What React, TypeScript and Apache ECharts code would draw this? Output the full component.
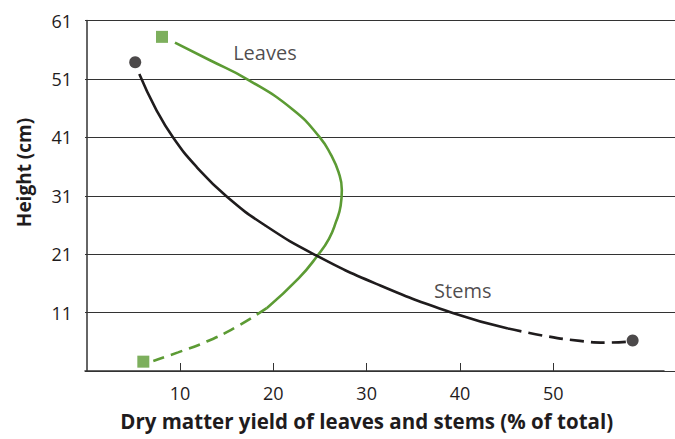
import React, { useEffect, useRef } from "react";
import * as echarts from "echarts";

// Leaves (% of total dry matter) vs height (cm)
const leavesSolid: [number, number][] = [
  [9.46, 57.2], [13.21, 54.19], [17.21, 50.94], [22.14, 45.69], [25.0, 40.95],
  [26.18, 37.98], [26.98, 35.08], [27.34, 32.0], [27.21, 29.26], [26.71, 26.52],
  [25.96, 23.61], [24.79, 20.87], [22.73, 16.89], [19.29, 11.75],
];
const leavesDashed: [number, number][] = [
  [19.29, 11.75], [16.08, 8.6], [12.86, 6.04], [9.79, 4.19], [7.14, 2.73],
];
const leavesEnds: [number, number][] = [[8.07, 58.2], [6.07, 2.6]];

// Stems
const stemsSolid: [number, number][] = [
  [5.64, 51.84], [7.39, 45.93], [9.28, 40.93], [11.79, 35.92], [15.0, 30.86],
  [19.18, 25.86], [24.52, 20.84], [31.04, 15.91], [39.14, 10.97], [45.14, 8.29],
];
const stemsDashed: [number, number][] = [
  [45.14, 8.29], [48.93, 7.06], [52.86, 6.15], [55.72, 5.86], [57.86, 6.0],
];
const stemsEnds: [number, number][] = [[5.2, 53.85], [58.5, 6.21]];

const annotations: { name: string; value: [number, number] }[] = [
  { name: "Leaves", value: [19.1, 55.6] },
  { name: "Stems", value: [40.3, 14.7] },
];

const xTicks = [10, 20, 30, 40, 50];
const yMin = 1;
const yMax = 61;
const xMin = -0.18;
const xMax = 61.86;

const xTitle = "Dry matter yield of leaves and stems (% of total)";
const yTitle = "Height (cm)";

const GREEN = "#5c9b34";
const BLACK = "#1f1c1d";
const FONT = "Open Sans";

export default function App() {
  const ref = useRef<HTMLDivElement>(null);
  useEffect(() => {
    if (!ref.current) return;
    const chart = echarts.init(ref.current, undefined, { renderer: "svg" });
    const gridBase = { left: 85, top: 20.5, bottom: 68 };
    const lineBase = {
      type: "line",
      xAxisIndex: 1,
      yAxisIndex: 1,
      smooth: 0.5,
      symbol: "none",
      silent: true,
    };
    chart.setOption({
      animation: false,
      backgroundColor: "#ffffff",
      textStyle: { fontFamily: FONT },
      grid: [
        { ...gridBase, right: 0 },
        { ...gridBase, right: 11 },
      ],
      graphic: [
        {
          type: "text",
          x: 366.7,
          y: 421,
          style: {
            text: xTitle,
            fontFamily: FONT,
            fontWeight: "bold",
            fontSize: 20.5,
            fill: BLACK,
            align: "center",
            verticalAlign: "middle",
          },
        },
        {
          type: "text",
          x: 24,
          y: 172.5,
          rotation: Math.PI / 2,
          style: {
            text: yTitle,
            fontFamily: FONT,
            fontWeight: "bold",
            fontSize: 19,
            fill: BLACK,
            align: "center",
            verticalAlign: "middle",
          },
        },
      ],
      xAxis: [
        { gridIndex: 0, type: "value", min: xMin, max: xMax, show: false },
        {
          gridIndex: 1,
          type: "value",
          min: xMin,
          max: xMax,
          axisLine: { show: true, onZero: false, lineStyle: { color: "#333", width: 1.5 } },
          axisTick: {
            show: true,
            inside: true,
            length: 8,
            customValues: xTicks,
            lineStyle: { color: "#333", width: 1 },
          },
          axisLabel: {
            customValues: xTicks,
            fontFamily: FONT,
            fontSize: 18,
            color: BLACK,
            margin: 13,
          },
          splitLine: { show: false },
        },
      ],
      yAxis: [
        {
          gridIndex: 0,
          type: "value",
          min: yMin,
          max: yMax,
          interval: 10,
          axisLine: { show: true, lineStyle: { color: "#333", width: 1.5 } },
          axisTick: { show: false },
          axisLabel: {
            showMinLabel: false,
            fontFamily: FONT,
            fontSize: 18,
            color: BLACK,
            margin: 13,
          },
          splitLine: { show: true, lineStyle: { color: "#333", width: 1 } },
        },
        { gridIndex: 1, type: "value", min: yMin, max: yMax, show: false },
      ],
      series: [
        { ...lineBase, data: leavesSolid, lineStyle: { color: GREEN, width: 2.6 } },
        {
          ...lineBase,
          data: leavesDashed,
          lineStyle: { color: GREEN, width: 2.6, type: [12, 7] },
        },
        { ...lineBase, data: stemsSolid, lineStyle: { color: BLACK, width: 2.6 } },
        {
          ...lineBase,
          data: stemsDashed,
          lineStyle: { color: BLACK, width: 2.6, type: [14, 7] },
        },
        {
          type: "scatter",
          xAxisIndex: 1,
          yAxisIndex: 1,
          data: leavesEnds,
          symbol: "rect",
          symbolSize: 12,
          itemStyle: { color: GREEN },
          silent: true,
        },
        {
          type: "scatter",
          xAxisIndex: 1,
          yAxisIndex: 1,
          data: stemsEnds,
          symbol: "circle",
          symbolSize: 12,
          itemStyle: { color: BLACK },
          silent: true,
        },
        {
          type: "scatter",
          xAxisIndex: 1,
          yAxisIndex: 1,
          data: annotations,
          symbolSize: 0,
          silent: true,
          label: {
            show: true,
            position: "inside",
            formatter: "{b}",
            fontFamily: FONT,
            fontSize: 20,
            color: BLACK,
          },
        },
      ],
    });
    return () => chart.dispose();
  }, []);
  return (
    <div
      ref={ref}
      style={{ position: "fixed", left: 0, top: 0, width: 675, height: 439 }}
    />
  );
}
